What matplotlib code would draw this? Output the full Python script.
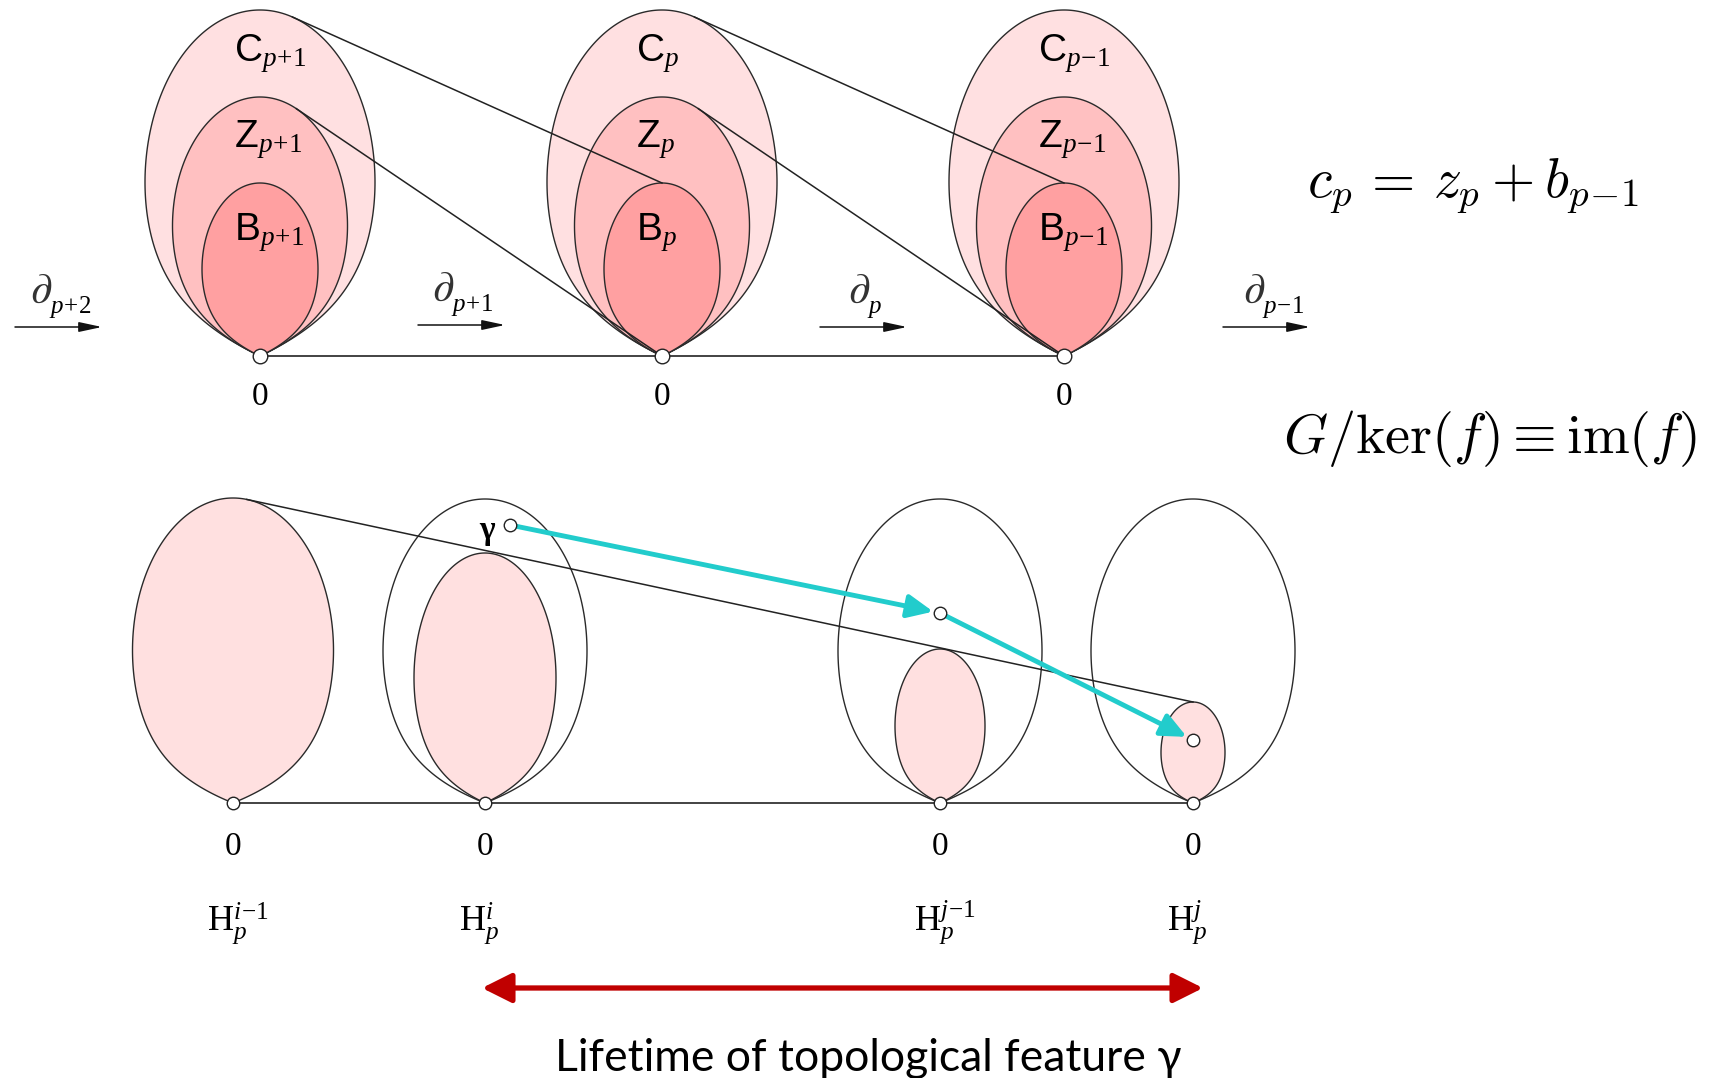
import numpy as np
import matplotlib.pyplot as plt
from matplotlib.patches import Polygon, FancyArrowPatch

plt.rcParams['mathtext.fontset'] = 'custom'
plt.rcParams['mathtext.rm'] = 'Liberation Serif'
plt.rcParams['mathtext.it'] = 'Liberation Serif:italic'
plt.rcParams['mathtext.sf'] = 'Liberation Sans'
plt.rcParams['mathtext.bf'] = 'Liberation Serif:bold'

# --- top row: chain groups C ⊃ Z ⊃ B ---
top_x = [260, 662, 1064]
top_base = 356
top_sets = ["C", "Z", "B"]
top_sizes = [(230, 346), (175, 259), (116, 173)]
top_fills = ["#FFE0E1", "#FFC0C1", "#FFA0A1"]
top_label_y = [61, 147, 240]
top_subs = [r"p\!+\!1", "p", r"p\!-\!1"]
bd_subs = [r"p\!+\!2", r"p\!+\!1", "p", r"p\!-\!1"]
bd_x = [15, 418, 820, 1223]
bd_y = [327, 325, 327, 327]
bd_label_x = [30, 432, 848, 1243]

# --- bottom row: homology groups ---
bot_x = [233, 485, 940, 1193]
bot_base = 803
bot_outer = [None, (204, 304), (204, 304), (204, 304)]
bot_inner = [(201, 305), (142, 250), (90, 154), (64, 101)]
bot_sups = [r"i\!-\!1", "i", r"j\!-\!1", "j"]
gamma_pt = (510, 525)
cyan_path = [gamma_pt, (940, 613), (1193, 740)]
life_span = (482, 1203)
life_y = 988


def egg(cx, ybot, w, h, m=10.0, n=800):
    t = np.linspace(0, 2 * np.pi, n)
    u = (1 - np.cos(t)) / 2
    f = np.sin(t) * np.sqrt(1 - (1 - u) ** m)
    f = f / np.abs(f).max()
    return cx + w / 2 * f, ybot - h * u


def upper_tangent(xs, ys, tx, ty):
    left = xs < tx - 1
    s = (ys[left] - ty) / (xs[left] - tx)
    i = np.argmax(s)
    return xs[left][i], ys[left][i]


def draw_shape(ax, xs, ys, fc):
    ax.add_patch(Polygon(np.column_stack([xs, ys]), closed=True, fc=fc,
                         ec="#2a2a2a", lw=1.0, zorder=2))


fig = plt.figure(figsize=(17.11, 10.78), dpi=100)
ax = fig.add_axes([0, 0, 1, 1])
ax.set_xlim(0, 1711)
ax.set_ylim(1078, 0)
ax.axis("off")

# top row shapes
shapes_top = []
for gx, sub in zip(top_x, top_subs):
    grp = []
    for name, (w, h), fc, ly in zip(top_sets, top_sizes, top_fills, top_label_y):
        xs, ys = egg(gx, top_base, w, h)
        draw_shape(ax, xs, ys, fc)
        grp.append((xs, ys))
        ax.text(gx - 26, ly, r"$\mathsf{%s}_{%s}$" % (name, sub), fontsize=28,
                ha="left", va="baseline", zorder=4)
    shapes_top.append(grp)
    ax.text(gx, 405, "0", fontsize=24, family="Liberation Serif",
            ha="center", va="baseline")

ax.plot([top_x[0], top_x[-1]], [top_base, top_base], color="#222", lw=1.2, zorder=1)

for k in range(len(top_x) - 1):
    cxs, cys = shapes_top[k][0]
    zxs, zys = shapes_top[k][1]
    tb = (top_x[k + 1], top_base - top_sizes[2][1])
    p = upper_tangent(cxs, cys, *tb)
    ax.plot([p[0], tb[0]], [p[1], tb[1]], color="#222", lw=1.1, zorder=3)
    t0 = (top_x[k + 1], top_base)
    p = upper_tangent(zxs, zys, *t0)
    ax.plot([p[0], t0[0]], [p[1], t0[1]], color="#222", lw=1.1, zorder=3)

ax.plot(top_x, [top_base] * len(top_x), "o", ms=10.5, mfc="white", mec="#222",
        mew=1.0, zorder=5)

# boundary maps
for x, y, lx, sub in zip(bd_x, bd_y, bd_label_x, bd_subs):
    ax.add_patch(FancyArrowPatch((x, y), (x + 87, y),
                                 arrowstyle="-|>,head_length=1.4,head_width=0.3",
                                 mutation_scale=10, lw=1.1, color="#111",
                                 shrinkA=0, shrinkB=0))
    ax.text(lx, y - 24, r"$\partial$", fontsize=31, math_fontfamily="cm",
            color="#333", ha="left", va="baseline")
    ax.text(lx + 19, y - 14, r"$%s$" % sub, fontsize=18,
            ha="left", va="baseline")

# equations
ax.text(1307, 197, r"$c_p \,=\, z_p + b_{p\!-\!1}$", fontsize=40,
        math_fontfamily="cm", ha="left", va="baseline")
ax.text(1283, 453, r"$G/\mathrm{ker}(f) \equiv \mathrm{im}(f)$", fontsize=40.5,
        math_fontfamily="cm", ha="left", va="baseline")

# bottom row shapes
for gx, outer, inner, sup in zip(bot_x, bot_outer, bot_inner, bot_sups):
    if outer is not None:
        xs, ys = egg(gx, bot_base, *outer, m=14)
        draw_shape(ax, xs, ys, "none")
    xs, ys = egg(gx, bot_base, *inner, m=14)
    draw_shape(ax, xs, ys, "#FFE0E0")
    ax.text(gx, 855, "0", fontsize=24, family="Liberation Serif",
            ha="center", va="baseline")
    ax.text(gx - 26, 930, r"$\mathrm{H}_{p}^{%s}$" % sup, fontsize=26,
            ha="left", va="baseline")

ax.plot([bot_x[0], bot_x[-1]], [bot_base, bot_base], color="#222", lw=1.2, zorder=1)

fx, fy = egg(bot_x[0], bot_base, *bot_inner[0], m=14)
tb = (bot_x[-1], bot_base - bot_inner[-1][1])
p = upper_tangent(fx, fy, *tb)
ax.plot([p[0], tb[0]], [p[1], tb[1]], color="#222", lw=1.1, zorder=3)

# cyan path of gamma
for a, b in zip(cyan_path[:-1], cyan_path[1:]):
    ax.add_patch(FancyArrowPatch(a, b, arrowstyle="-|>,head_length=1.1,head_width=0.5",
                                 mutation_scale=14, lw=3.5, color="#22CCCC",
                                 shrinkA=5, shrinkB=5, zorder=4))
cx_, cy_ = zip(*cyan_path)
ax.plot(cx_, cy_, "o", ms=9, mfc="white", mec="#222", mew=1.0, zorder=5,
        linestyle="none")
ax.text(gamma_pt[0] - 23, gamma_pt[1] + 5, "γ", fontsize=24, weight="bold",
        family="Liberation Serif", ha="center", va="center")

ax.plot(bot_x, [bot_base] * len(bot_x), "o", ms=9, mfc="white", mec="#222",
        mew=1.0, zorder=5)

# lifetime arrow
ax.add_patch(FancyArrowPatch((life_span[0], life_y), (life_span[1], life_y),
                             arrowstyle="<|-|>,head_length=1.0,head_width=0.5",
                             mutation_scale=18, lw=3.8, color="#C00000",
                             shrinkA=0, shrinkB=0))
ax.text(868, 1071, "Lifetime of topological feature γ", fontsize=32,
        family="Lato", ha="center", va="baseline")

fig.savefig("out.png", dpi=100)
